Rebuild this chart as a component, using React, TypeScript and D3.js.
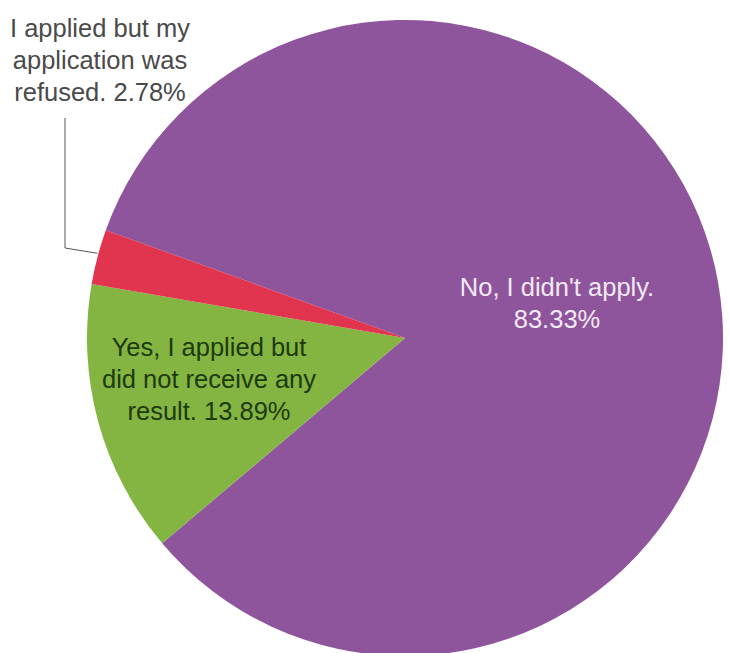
import React from "react";
import * as d3 from "d3";

const categories = [
  "No, I didn't apply.",
  "Yes, I applied but did not receive any result.",
  "I applied but my application was refused.",
];
const values = [83.33, 13.89, 2.78];
const colors = ["#8f559c", "#84b542", "#e1344f"];
const labelLines = [
  ["No, I didn't apply.", "83.33%"],
  ["Yes, I applied but", "did not receive any", "result. 13.89%"],
  ["I applied but my", "application was", "refused. 2.78%"],
];

const W = 729;
const H = 653;
const cx = 405;
const cy = 338;
const R = 318;
const startDeg = -70.2;

export default function App() {
  const pie = d3
    .pie<number>()
    .sort(null)
    .value((d) => d)
    .startAngle((startDeg * Math.PI) / 180)
    .endAngle(((startDeg + 360) * Math.PI) / 180);
  const arcs = pie(values);
  const arc = d3.arc<d3.PieArcDatum<number>>().innerRadius(0).outerRadius(R);

  const fontFamily = "'Liberation Sans', Arial, sans-serif";
  const fs = 25.5;
  const lh = 32;

  const labelPos = [
    { x: 557, y: 296, fill: "#f3e9f5" },
    { x: 209, y: 356, fill: "#1d3a0e" },
    { x: 100, y: 37, fill: "#4a4a4a" },
  ];

  const redArc = arcs[2];
  const midA = (redArc.startAngle + redArc.endAngle) / 2;
  const edge: [number, number] = [
    cx + Math.sin(midA) * (R - 2),
    cy - Math.cos(midA) * (R - 2),
  ];
  const leader = d3.line()([
    [65, 118],
    [65, 248],
    [edge[0] - 2, edge[1] - 4],
  ]);

  return (
    <div style={{ position: "absolute", left: 0, top: 0 }}>
      <svg width={W} height={H} style={{ display: "block", background: "#fff" }}>
        <g transform={`translate(${cx},${cy})`}>
          {arcs.map((a, i) => (
            <path key={categories[i]} d={arc(a) || ""} fill={colors[i]} />
          ))}
        </g>
        <path d={leader || ""} fill="none" stroke="#555" strokeWidth={1} />
        {labelLines.map((lines, i) => (
          <text
            key={i}
            x={labelPos[i].x}
            y={labelPos[i].y}
            fill={labelPos[i].fill}
            fontFamily={fontFamily}
            fontSize={fs}
            textAnchor="middle"
          >
            {lines.map((ln, j) => (
              <tspan key={j} x={labelPos[i].x} dy={j === 0 ? 0 : lh}>
                {ln}
              </tspan>
            ))}
          </text>
        ))}
      </svg>
    </div>
  );
}
